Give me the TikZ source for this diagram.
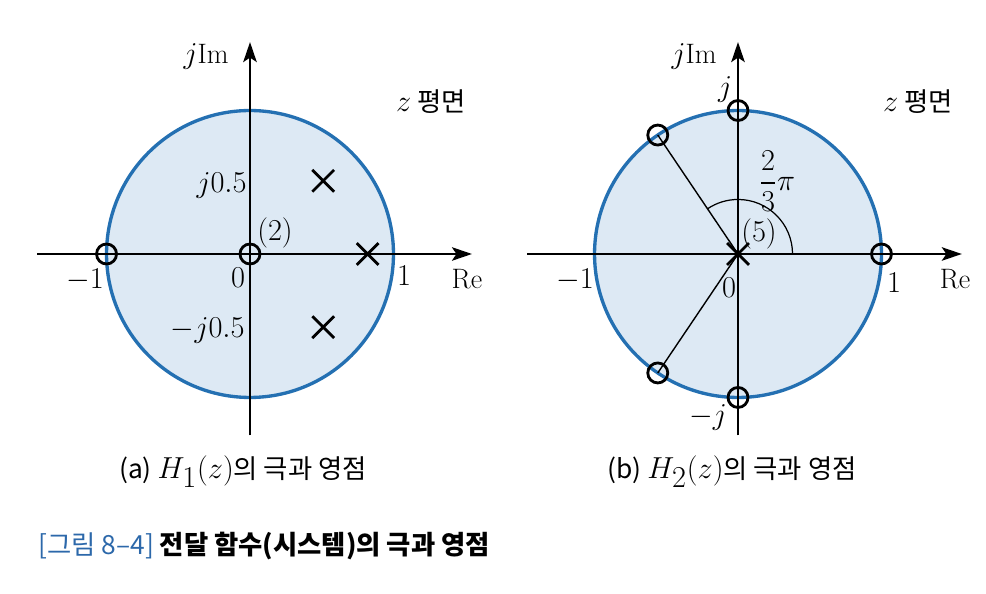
\documentclass[tikz,border=0pt]{standalone}
\usepackage{amsmath,amssymb}
\usepackage{fontspec}
\newfontfamily\kr{Noto Sans CJK KR}
\usetikzlibrary{shapes.misc,arrows.meta}
\definecolor{rimblue}{RGB}{36,112,178}
\definecolor{diskblue}{RGB}{221,233,244}
\definecolor{capblue}{RGB}{44,104,170}
\newcommand{\capmath}[1]{{\fontsize{16}{18}\selectfont$#1$}}
\begin{document}
\begin{tikzpicture}[x=0.02cm,y=0.02cm,
    zero/.style={draw=black,line width=1.6pt,circle,inner sep=0pt,minimum size=0.4cm},
    pole/.style={draw=black,line width=1.6pt,cross out,inner sep=0pt,minimum size=0.38cm},
    axis/.style={line width=1.2pt,-{Stealth[length=4mm,width=2.7mm,inset=0.9mm]}},
    lbl/.style={inner sep=0pt,font=\fontsize{16}{18}\selectfont},
    krlbl/.style={inner sep=0pt,font=\kr\fontsize{15}{17}\selectfont}]
    \useasboundingbox (0,0) rectangle (986,594);

    % (a) H_1(z)
    \begin{scope}[shift={(250,340)},x=2.87cm,y=2.87cm]
        \fill[diskblue] (0,0) circle[radius=1];
        \draw[rimblue,line width=1.9pt] (0,0) circle[radius=1];
        \coordinate (aW) at (-1.484,0);
        \coordinate (aE) at (1.547,0);
        \coordinate (aS) at (0,-1.265);
        \coordinate (aN) at (0,1.477);
        \draw[axis] (aW) -- (aE);
        \draw[axis] (aS) -- (aN);
        \node[zero] (a0) at (0,0) {};
        \node[zero] (a1) at (-1,0) {};
        \node[pole] (p1) at (0.51,0.51) {};
        \node[pole] (p2) at (0.82,0) {};
        \node[pole] (p3) at (0.51,-0.51) {};
    \end{scope}
    \node[lbl] (aIm) at (206,537) {$j\mathrm{Im}$};
    \node[lbl] (aRe) at (467,315) {$\mathrm{Re}$};
    \node[krlbl] (aZ) at (431,492) {\capmath{z} 평면};
    \node[lbl] (am1) at (85,314) {$-1$};
    \node[lbl] (aO) at (238,316) {$0$};
    \node[lbl] (aone) at (404,318) {$1$};
    \node[lbl,anchor=east] (ajp) at (247,408) {$j0.5$};
    \node[lbl,anchor=east] (ajm) at (245,263) {$-j0.5$};
    \node[lbl] (am) at (275,361) {$(2)$};

    % (b) H_2(z)
    \begin{scope}[shift={(738,340)},x=2.87cm,y=2.87cm]
        \fill[diskblue] (0,0) circle[radius=1];
        \draw[rimblue,line width=1.9pt] (0,0) circle[radius=1];
        \coordinate (bW) at (-1.47,0);
        \coordinate (bE) at (1.56,0);
        \coordinate (bS) at (0,-1.265);
        \coordinate (bN) at (0,1.477);
        \draw[axis] (bW) -- (bE);
        \draw[axis] (bS) -- (bN);
        \draw[line width=0.7pt] (0.38,0) arc[start angle=0,end angle=124,radius=0.38];
        \node[pole] (b0) at (0,0) {};
        \node[zero] (z1) at (124:1) {};
        \node[zero] (z2) at (-124:1) {};
        \node[zero] (z3) at (0,1) {};
        \node[zero] (z4) at (0,-1) {};
        \node[zero] (z5) at (1,0) {};
        \path [-,line width=0.8pt] (z1.center) edge (b0.center);
        \path [-,line width=0.8pt] (z2.center) edge (b0.center);
    \end{scope}
    \node[lbl] (bIm) at (694,537) {$j\mathrm{Im}$};
    \node[lbl] (bRe) at (955,315) {$\mathrm{Re}$};
    \node[krlbl] (bZ) at (918,492) {\capmath{z} 평면};
    \node[lbl] (bm1) at (575,314) {$-1$};
    \node[lbl] (bO) at (729,306) {$0$};
    \node[lbl] (bone) at (894,311) {$1$};
    \node[lbl] (bj) at (725,504) {$j$};
    \node[lbl] (bjm) at (708,176) {$-j$};
    \node[lbl,font=\fontsize{18}{20}\selectfont] (bang) at (777,413) {$\dfrac{2}{3}\pi$};
    \node[lbl] (bm) at (759,360) {$(5)$};

    % captions
    \node[krlbl] (capa) at (243,122) {(a) \capmath{H_{\textstyle 1}(z)}의 극과 영점};
    \node[krlbl] (capb) at (732,122) {(b) \capmath{H_{\textstyle 2}(z)}의 극과 영점};
    \node[krlbl,anchor=west] (title) at (38,48)
        {\textcolor{capblue}{[그림 8–4]}\ \textbf{전달 함수(시스템)의 극과 영점}};
\end{tikzpicture}
\end{document}
